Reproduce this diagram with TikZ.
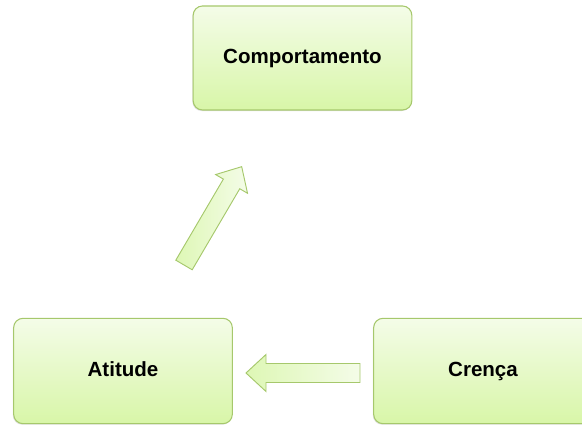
\documentclass[tikz,border=0pt]{standalone}
\usepackage{fontspec}
\setmainfont{Liberation Sans}
\usetikzlibrary{shadows}

\definecolor{boxtop}{HTML}{F4FCE8}
\definecolor{boxbottom}{HTML}{D8F6A8}
\definecolor{boxline}{HTML}{A6C86C}

\tikzset{
  etapa/.style={draw=boxline, line width=0.8pt, rounded corners=7pt,
    top color=boxtop, bottom color=boxbottom,
    minimum width=164pt, minimum height=79pt,
    text height=11pt, text depth=3pt,
    font=\fontsize{15.4}{18}\selectfont\bfseries,
    drop shadow={shadow xshift=-0.6pt, shadow yshift=-0.8pt, opacity=0.25}},
  seta/.pic={
    \draw[draw=boxline, line width=0.7pt, left color=boxbottom!80!boxtop, right color=boxtop]
      (0,-9.5) -- (94,-9.5) -- (94,-18.5) -- (114,0) -- (94,18.5) -- (94,9.5) -- (0,9.5) -- cycle;
  }
}

\begin{document}
\begin{tikzpicture}[x=0.75pt, y=0.75pt]
\useasboundingbox (0,0) rectangle (582,427);
\clip (0,0) rectangle (582,427);

\node[etapa, minimum height=78pt] (comp) at (302.5,369) {Comportamento};
\node[etapa] (atit) at (123,56) {Atitude};
\node[etapa] (cren) at (483,56) {Crença};

% setas
\pic[rotate=59.6] at (184,162) {seta};
\pic[rotate=180] at (360,54) {seta};
\end{tikzpicture}
\end{document}
